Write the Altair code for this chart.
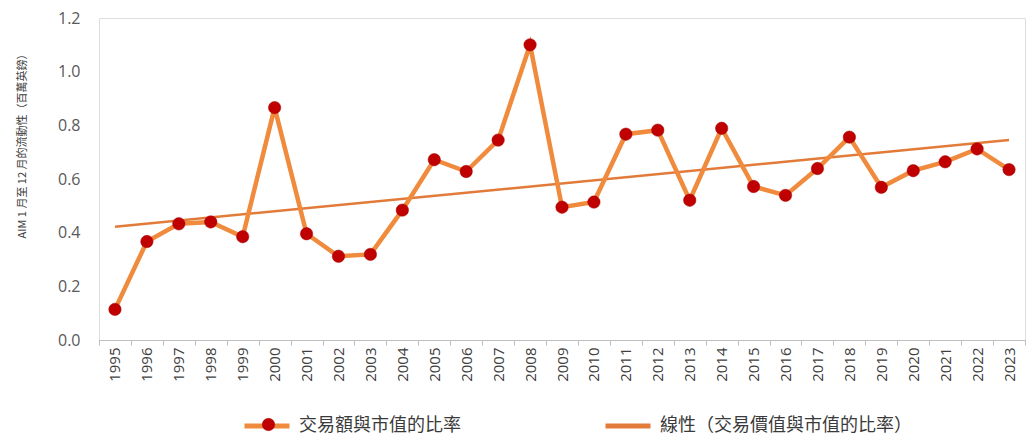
import altair as alt
import pandas as pd

years = [str(y) for y in range(1995, 2024)]
ratio = [0.114, 0.367, 0.433, 0.440, 0.385, 0.866, 0.396, 0.312, 0.319, 0.484,
         0.672, 0.628, 0.745, 1.100, 0.495, 0.514, 0.767, 0.782, 0.521, 0.789,
         0.572, 0.539, 0.639, 0.756, 0.569, 0.631, 0.664, 0.712, 0.635]
trend_years = ["1995", "2023"]
trend_vals = [0.422, 0.745]

S1 = "交易額與市值的比率"
S2 = "線性（交易價值與市值的比率）"

df = pd.DataFrame({"year": years, "value": ratio})
tdf = pd.DataFrame({"year": trend_years, "value": trend_vals})

FONT = "Open Sans, Noto Sans CJK TC"
CJK = "Noto Sans CJK TC, Open Sans"
LINE_MAIN = "#F08A3C"
LINE_TREND = "#E27B3A"
DOT = "#C00000"

x = alt.X("year:O", scale=alt.Scale(type="band", domain=years, paddingInner=0, paddingOuter=0),
          axis=alt.Axis(title=None, labelAngle=270, labelFont=FONT, labelFontSize=15,
                        labelColor="#404040", domainColor="#BFBFBF", tickColor="#BFBFBF",
                        tickBand="extent", tickSize=5, labelPadding=2, grid=False))
y = alt.Y("value:Q", scale=alt.Scale(domain=[0, 1.2], nice=False),
          axis=alt.Axis(title="AIM 1 月至 12 月的流動性（百萬英鎊）", values=[0, 0.2, 0.4, 0.6, 0.8, 1.0, 1.2],
                        format=".1f", labelFont=FONT, labelFontSize=16, labelColor="#595959",
                        domain=False, ticks=False, grid=False, labelPadding=19,
                        titleFont=CJK, titleFontSize=11, titleFontWeight="normal", titleColor="#404040",
                        titleAngle=270, titleX=-77, titleY=125, titleAlign="center", titleBaseline="middle"))

color_scale = alt.Scale(domain=[S1, S2], range=[LINE_MAIN, LINE_TREND])
legend_a = alt.Legend(title=None, orient="none", legendX=143, legendY=383, direction="horizontal",
                      columns=2, columnPadding=134, symbolType="stroke", symbolSize=2025,
                      symbolStrokeWidth=5, labelFont=CJK, labelFontSize=18, labelColor="#3A3A3A",
                      labelOffset=7, padding=0, labelLimit=400)

main_line = alt.Chart(df).mark_line(strokeWidth=4.5).encode(
    x=x, y=y, color=alt.Color("s:N", scale=color_scale, legend=legend_a)
).transform_calculate(s=f"'{S1}'")

trend_line = alt.Chart(tdf).mark_line(strokeWidth=2.5).encode(
    x=x, y=y, color=alt.Color("s:N", scale=color_scale, legend=legend_a)
).transform_calculate(s=f"'{S2}'")

legend_b = alt.Legend(title=None, orient="none", legendX=163, legendY=400, symbolType="circle",
                      symbolSize=154, labelExpr="''", padding=0, symbolStrokeColor="#A00000",
                      symbolStrokeWidth=0.5, zindex=2, labelOffset=0)

points = alt.Chart(df).mark_point(filled=True, size=154, opacity=1, stroke="#A00000", strokeWidth=0.5).encode(
    x=x, y=y, fill=alt.Fill("p:N", scale=alt.Scale(domain=["pt"], range=[DOT]), legend=legend_b)
).transform_calculate(p="'pt'")

chart = alt.layer(trend_line, main_line, points).resolve_scale(color="shared").properties(
    width=926, height=322,
    autosize=alt.AutoSizeParams(type="none"),
    padding={"left": 91, "top": 10, "right": 1, "bottom": 96},
).configure_view(stroke=None).configure(background="white")

chart.save("out.html", embed_options={"renderer": "svg", "actions": False})
